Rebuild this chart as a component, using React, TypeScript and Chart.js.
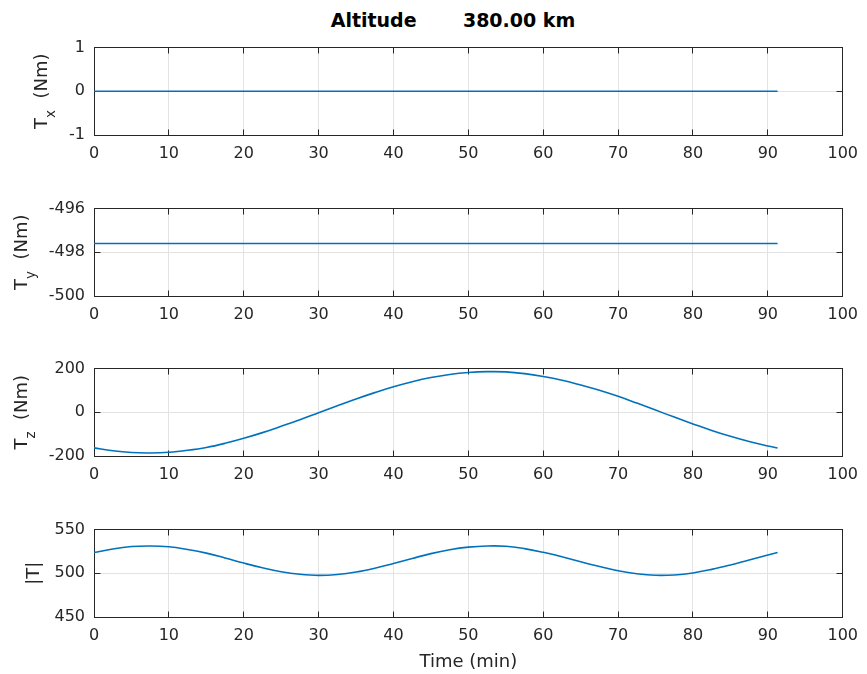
import React, { useEffect, useRef } from "react";
import { Chart, registerables } from "chart.js";

Chart.register(...registerables);

// ---------------- data ----------------
const timeMin = [0, 2.5, 5, 7.5, 10, 12.5, 15, 17.5, 20, 22.5, 25, 27.5, 30, 32.5, 35, 37.5, 40, 42.5, 45, 47.5, 50, 52.5, 55, 57.5, 60, 62.5, 65, 67.5, 70, 72.5, 75, 77.5, 80, 82.5, 85, 87.5, 90, 91.3];
const txValues = [0, 0, 0, 0, 0, 0, 0, 0, 0, 0, 0, 0, 0, 0, 0, 0, 0, 0, 0, 0, 0, 0, 0, 0, 0, 0, 0, 0, 0, 0, 0, 0, 0, 0, 0, 0, 0, 0];
const tyValues = [-497.6, -497.6, -497.6, -497.6, -497.6, -497.6, -497.6, -497.6, -497.6, -497.6, -497.6, -497.6, -497.6, -497.6, -497.6, -497.6, -497.6, -497.6, -497.6, -497.6, -497.6, -497.6, -497.6, -497.6, -497.6, -497.6, -497.6, -497.6, -497.6, -497.6, -497.6, -497.6, -497.6, -497.6, -497.6, -497.6, -497.6, -497.6];
const tzValues = [-163, -176, -184, -186, -183, -174, -161, -142, -119, -93, -64, -34, -2, 30, 61, 90, 117, 140, 159, 173, 182, 186, 185, 177, 164, 147, 125, 101, 73, 42, 10, -22, -53, -83, -110, -134, -154, -163];
const tMagValues = [523.7, 527.9, 530.6, 531.3, 530.3, 527.2, 523.1, 517.6, 511.7, 506.3, 501.8, 498.9, 497.6, 498.6, 501.4, 505.8, 511.3, 517.0, 522.5, 526.9, 529.9, 531.3, 531.0, 528.2, 524.0, 519.0, 513.2, 507.8, 503.0, 499.5, 497.7, 498.1, 500.4, 504.5, 509.6, 515.3, 520.9, 523.7];

const xTicks = [0, 10, 20, 30, 40, 50, 60, 70, 80, 90, 100];
const txTicks = [-1, 0, 1];
const tyTicks = [-500, -498, -496];
const tzTicks = [-200, 0, 200];
const tMagTicks = [450, 500, 550];

const titleLeft = "Altitude";
const titleRight = "380.00 km";
const xAxisTitle = "Time (min)";

// ---------------- style / layout ----------------
const FONT = "'DejaVu Sans', 'Liberation Sans', sans-serif";
const TICK_SIZE = 16;
const LABEL_SIZE = 18;
const SUB_SIZE = 13.5;
const SUB_DROP = 8;
const TEXT_COLOR = "#262626";
const GRID_COLOR = "#e3e3e3";
const LINE_COLOR = "#0072BD";
const W = 867;
const PLOT_LEFT = 94;
const PLOT_RIGHT = 851;
const PLOT_H = 87;
const PAD_TOP = 12;
const XAXIS_H = 40;
const TICK_LEN = 6;

type LabelPart = { text: string; size: number; dy: number };

interface PanelSpec {
  values: number[];
  yTicks: number[];
  label: LabelPart[];
  labelExtent: number;
  top: number;
  extraBottom: number;
  xTitle?: string;
}

const subLabel = (main: string, sub: string, rest: string): LabelPart[] => [
  { text: main, size: LABEL_SIZE, dy: 0 },
  { text: sub, size: SUB_SIZE, dy: SUB_DROP },
  { text: rest, size: LABEL_SIZE, dy: 0 },
];

const panels: PanelSpec[] = [
  { values: txValues, yTicks: txTicks, label: subLabel("T", "x", "  (Nm)"), labelExtent: SUB_DROP + 3, top: 48, extraBottom: 0 },
  { values: tyValues, yTicks: tyTicks, label: subLabel("T", "y", "  (Nm)"), labelExtent: SUB_DROP + 3, top: 209, extraBottom: 0 },
  { values: tzValues, yTicks: tzTicks, label: subLabel("T", "z", "  (Nm)"), labelExtent: SUB_DROP + 3, top: 369, extraBottom: 0 },
  { values: tMagValues, yTicks: tMagTicks, label: [{ text: "|T|", size: LABEL_SIZE, dy: 0 }], labelExtent: 4, top: 530, extraBottom: 16, xTitle: xAxisTitle },
];

const al = (v: number) => Math.round(v - 0.5) + 0.5;
const TICK_LABEL_RIGHT = PLOT_LEFT - 9;

function makeFramePlugin(spec: PanelSpec) {
  return {
    id: "matlabFrame",
    beforeDatasetsDraw(chart: any) {
      const { ctx, chartArea: a, scales } = chart;
      const L = al(a.left), R = al(a.right), T = al(a.top), B = al(a.bottom);
      ctx.save();
      ctx.strokeStyle = TEXT_COLOR;
      ctx.lineWidth = 1;
      ctx.beginPath();
      xTicks.forEach((v) => {
        const px = al(scales.x.getPixelForValue(v));
        ctx.moveTo(px, B);
        ctx.lineTo(px, B - TICK_LEN);
        ctx.moveTo(px, T);
        ctx.lineTo(px, T + TICK_LEN);
      });
      spec.yTicks.forEach((v) => {
        const py = al(scales.y.getPixelForValue(v));
        ctx.moveTo(L, py);
        ctx.lineTo(L + TICK_LEN, py);
        ctx.moveTo(R, py);
        ctx.lineTo(R - TICK_LEN, py);
      });
      ctx.stroke();
      ctx.strokeRect(L, T, R - L, B - T);
      ctx.restore();
    },
    afterDraw(chart: any) {
      const { ctx, chartArea: a } = chart;
      ctx.save();
      ctx.font = `${TICK_SIZE}px ${FONT}`;
      let maxW = 0;
      spec.yTicks.forEach((v) => {
        const w = ctx.measureText(String(v)).width;
        if (w > maxW) maxW = w;
      });
      const boxRight = TICK_LABEL_RIGHT - maxW - 11;
      const baseX = boxRight - spec.labelExtent;
      const cy = (a.top + a.bottom) / 2;
      ctx.translate(baseX, cy);
      ctx.rotate(-Math.PI / 2);
      let total = 0;
      spec.label.forEach((p) => {
        ctx.font = `${p.size}px ${FONT}`;
        total += ctx.measureText(p.text).width;
      });
      let x = -total / 2;
      ctx.fillStyle = TEXT_COLOR;
      ctx.textAlign = "left";
      ctx.textBaseline = "alphabetic";
      spec.label.forEach((p) => {
        ctx.font = `${p.size}px ${FONT}`;
        ctx.fillText(p.text, x, p.dy);
        x += ctx.measureText(p.text).width;
      });
      ctx.restore();

      if (spec.xTitle) {
        ctx.save();
        ctx.font = `${LABEL_SIZE}px ${FONT}`;
        ctx.fillStyle = TEXT_COLOR;
        ctx.textAlign = "center";
        ctx.textBaseline = "alphabetic";
        ctx.fillText(spec.xTitle, (a.left + a.right) / 2, a.bottom + 50);
        ctx.restore();
      }
    },
  };
}

function Panel({ spec }: { spec: PanelSpec }) {
  const ref = useRef<HTMLCanvasElement | null>(null);
  const height = PAD_TOP + PLOT_H + XAXIS_H + spec.extraBottom;

  useEffect(() => {
    const canvas = ref.current;
    if (!canvas) return;
    const yMin = spec.yTicks[0];
    const yMax = spec.yTicks[spec.yTicks.length - 1];
    const chart = new Chart(canvas, {
      type: "line",
      data: {
        datasets: [
          {
            data: timeMin.map((t, i) => ({ x: t, y: spec.values[i] })),
            borderColor: LINE_COLOR,
            borderWidth: 1.6,
            pointRadius: 0,
            fill: false,
            tension: 0.4,
          },
        ],
      },
      options: {
        responsive: false,
        maintainAspectRatio: false,
        animation: false,
        events: [],
        layout: { padding: { left: 0, right: W - PLOT_RIGHT, top: PAD_TOP, bottom: spec.extraBottom } },
        plugins: { legend: { display: false }, tooltip: { enabled: false }, title: { display: false } },
        scales: {
          x: {
            type: "linear",
            min: xTicks[0],
            max: xTicks[xTicks.length - 1],
            afterBuildTicks: (scale: any) => {
              scale.ticks = xTicks.map((v) => ({ value: v }));
            },
            afterFit: (scale: any) => {
              scale.height = XAXIS_H;
            },
            grid: { color: GRID_COLOR, lineWidth: 1, drawTicks: false },
            border: { display: false },
            ticks: {
              color: TEXT_COLOR,
              font: { family: FONT, size: TICK_SIZE },
              padding: 9,
              maxRotation: 0,
              autoSkip: false,
              callback: (v: any) => String(v),
            },
          },
          y: {
            type: "linear",
            min: yMin,
            max: yMax,
            afterBuildTicks: (scale: any) => {
              scale.ticks = spec.yTicks.map((v) => ({ value: v }));
            },
            afterFit: (scale: any) => {
              scale.width = PLOT_LEFT;
            },
            grid: { color: GRID_COLOR, lineWidth: 1, drawTicks: false },
            border: { display: false },
            ticks: {
              color: TEXT_COLOR,
              font: { family: FONT, size: TICK_SIZE },
              padding: PLOT_LEFT - TICK_LABEL_RIGHT,
              autoSkip: false,
              callback: (v: any) => String(v),
            },
          },
        },
      },
      plugins: [makeFramePlugin(spec)],
    } as any);

    // align the plot area exactly to the requested top / height
    const off = Math.round(chart.chartArea.top);
    const h = off + PLOT_H + XAXIS_H + spec.extraBottom;
    canvas.style.top = `${spec.top - off}px`;
    chart.resize(W, h);

    return () => chart.destroy();
  }, [spec]);

  return (
    <canvas
      ref={ref}
      width={W}
      height={height}
      style={{ position: "absolute", left: 0, top: spec.top - PAD_TOP, width: W, height }}
    />
  );
}

export default function App() {
  return (
    <div style={{ position: "absolute", left: 0, top: 0, width: W, height: 674, overflow: "hidden", background: "#fff" }}>
      <div
        style={{
          position: "absolute",
          left: 0,
          top: 11,
          width: 906,
          textAlign: "center",
          whiteSpace: "pre",
          fontFamily: FONT,
          fontWeight: "bold",
          fontSize: 19,
          lineHeight: "19px",
          color: "#000",
        }}
      >
        {titleLeft + "       " + titleRight}
      </div>
      {panels.map((p, i) => (
        <Panel key={i} spec={p} />
      ))}
    </div>
  );
}
